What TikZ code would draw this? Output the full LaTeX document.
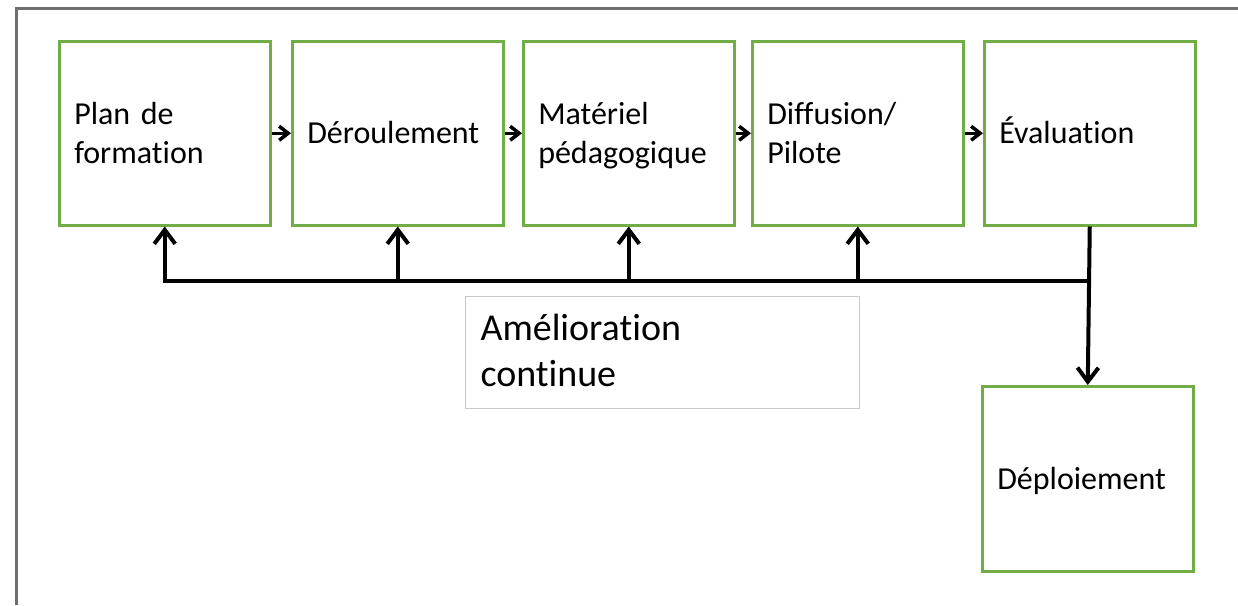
\documentclass[tikz,border=0pt]{standalone}
\usepackage{fontspec}
\setmainfont{Carlito}[Ligatures={NoCommon}]
\usetikzlibrary{arrows.meta}
\definecolor{boxgreen}{HTML}{70AD47}
\definecolor{framegray}{HTML}{6E6E6E}
\definecolor{labelgray}{HTML}{C8C8C8}
\begin{document}
\begin{tikzpicture}[x=1pt,y=-1pt,
  stage/.style={draw=boxgreen, line width=2.5pt, minimum width=211pt, minimum height=184pt,
    text width=181pt, inner xsep=15pt, inner ysep=0pt, align=left,
    font=\fontsize{32}{39}\selectfont, anchor=north west,
    execute at begin node={\rule{0pt}{33pt}}, execute at end node=\strut},
  labelbox/.style={draw=labelgray, line width=1pt, minimum width=394pt, minimum height=112pt,
    text width=364pt, inner xsep=15pt, inner ysep=0pt, align=left,
    font=\fontsize{38}{46}\selectfont, anchor=north west,
    execute at begin node={\rule{0pt}{35pt}}, execute at end node=\strut},
  flow/.style={draw=black, line width=4pt, -{Straight Barb[length=14pt,width=21pt]}},
  nextstep/.style={draw=black, line width=3.5pt, -{Straight Barb[length=9pt,width=14pt]}}
]
\useasboundingbox (0,0) rectangle (1238,605);

% page frame
\draw[framegray, line width=3pt] (16,605) -- (16,8) -- (1238,8);

% process stages
\node[stage] (b1) at (58,40)  {Plan de\\formation};
\node[stage] (b2) at (291,40) {Déroulement};
\node[stage] (b3) at (522,40) {Matériel\\pédagogique};
\node[stage] (b4) at (751,40) {Diffusion/\\Pilote};
\node[stage] (b5) at (983,40) {Évaluation};
\node[stage, minimum height=185pt] (dep) at (981,385) {Déploiement};

% feedback label
\node[labelbox] (lbl) at (465,296) {Amélioration\\continue};

% sequence arrows
\draw[nextstep] (b1.east) -- (b2.west);
\draw[nextstep] (b2.east) -- (b3.west);
\draw[nextstep] (b3.east) -- (b4.west);
\draw[nextstep] (b4.east) -- (b5.west);

% continuous improvement loop
\coordinate (fb) at (0,281);
\draw[flow] (b5.south |- fb) -- (b1.south |- fb) -- (b1.south);
\foreach \n in {b2,b3,b4} {
  \draw[flow] (\n.south |- fb) -- (\n.south);
}
\draw[flow] (b5.south) -- (dep.north);
\end{tikzpicture}
\end{document}
